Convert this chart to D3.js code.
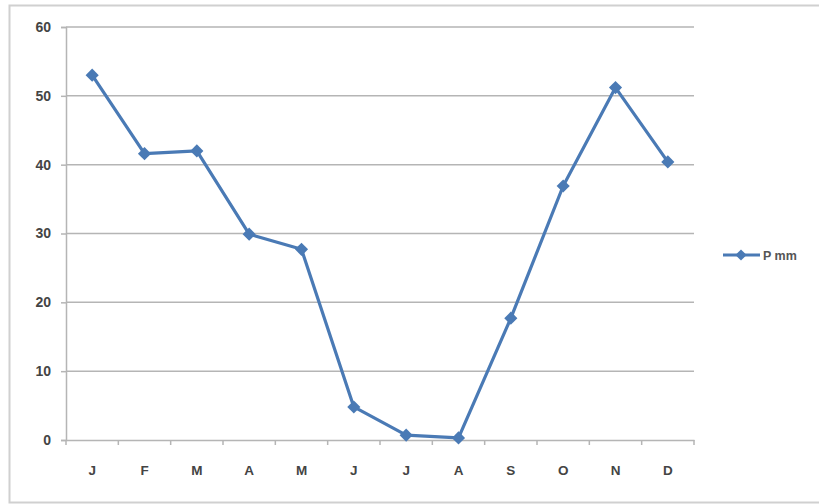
<!DOCTYPE html>
<html><head><meta charset="utf-8">
<script src="https://cdn.jsdelivr.net/npm/d3@7"></script>
<style>body{margin:0;background:#fff;}svg{display:block;font-family:"Liberation Sans",Arial,sans-serif;}</style>
</head><body>
<svg id="c" width="819" height="504"></svg>
<script>
const months = ["J","F","M","A","M","J","J","A","S","O","N","D"];
const pmm = [53.0, 41.6, 42.0, 29.9, 27.7, 4.8, 0.7, 0.3, 17.7, 36.9, 51.2, 40.4];
const yTicks = [0,10,20,30,40,50,60];
const seriesName = "P mm";

const svg = d3.select("#c");
const color = "#4a7ab5";
svg.append("rect").attr("x",9.5).attr("y",5.5).attr("width",830).attr("height",497)
  .attr("fill","none").attr("stroke","#d0d0d0").attr("stroke-width",2);

const L=66, R=694, T=27, B=440;
const idx = d3.range(months.length);
const x = d3.scaleBand().domain(idx).range([L,R]).paddingInner(0).paddingOuter(0);
const y = d3.scaleLinear().domain([0,60]).range([B,T]);

svg.append("g").selectAll("line").data(yTicks.filter(d=>d>0)).join("line")
  .attr("x1",L).attr("x2",R).attr("y1",d=>y(d)).attr("y2",d=>y(d))
  .attr("stroke","#b5b5b5").attr("stroke-width",1.5);

const ya = svg.append("g").attr("transform",`translate(${L},0)`)
  .call(d3.axisLeft(y).tickValues(yTicks).tickSize(5).tickPadding(10));
ya.select(".domain").attr("stroke","#b5b5b5").attr("stroke-width",1.5);
ya.selectAll(".tick line").attr("stroke","#b5b5b5").attr("stroke-width",1.5);
ya.selectAll("text").attr("font-size",14).attr("font-weight","bold").attr("fill","#444");

const xa = svg.append("g").attr("transform",`translate(0,${B})`)
  .call(d3.axisBottom(x).tickFormat(i=>months[i]).tickSize(0).tickPadding(25));
xa.select(".domain").attr("stroke","#b5b5b5").attr("stroke-width",1.5);
xa.selectAll("text").attr("font-size",13.5).attr("font-weight","bold").attr("fill","#444");
const bounds = d3.range(months.length+1).map(i => i<months.length ? x(i) : R);
svg.append("g").selectAll("line").data(bounds).join("line")
  .attr("x1",d=>d).attr("x2",d=>d).attr("y1",B).attr("y2",B+5)
  .attr("stroke","#b5b5b5").attr("stroke-width",1.5);

const cx = i => x(i)+x.bandwidth()/2;
const line = d3.line().x((d,i)=>cx(i)).y(d=>y(d));
svg.append("path").datum(pmm).attr("d",line).attr("fill","none")
  .attr("stroke",color).attr("stroke-width",3.2).attr("stroke-linejoin","round");
const diamond = d3.symbol().type(d3.symbolDiamond2).size(110);
svg.append("g").selectAll("path").data(pmm).join("path")
  .attr("d",diamond).attr("transform",(d,i)=>`translate(${cx(i)},${y(d)})`)
  .attr("fill",color);

const ly=255;
svg.append("line").attr("x1",723).attr("x2",760).attr("y1",ly).attr("y2",ly)
  .attr("stroke",color).attr("stroke-width",3);
svg.append("path").attr("d",d3.symbol().type(d3.symbolDiamond2).size(80)).attr("transform",`translate(741,${ly})`).attr("fill",color);
svg.append("text").attr("x",763).attr("y",ly+4.5).text(seriesName)
  .attr("font-size",12.5).attr("font-weight","bold").attr("fill","#555");
</script>
</body></html>
